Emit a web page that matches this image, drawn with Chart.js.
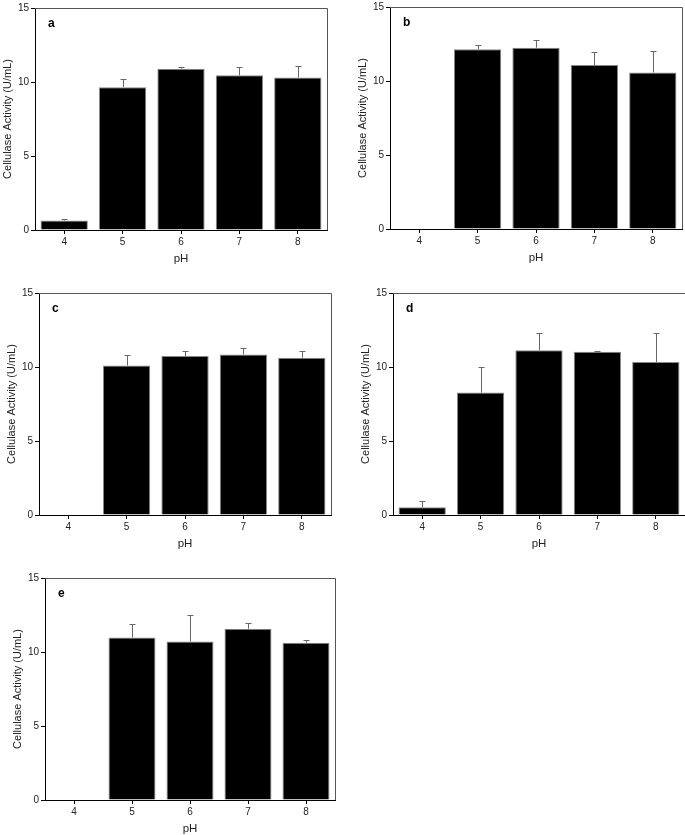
<!DOCTYPE html>
<html>
<head>
<meta charset="utf-8">
<script src="https://cdn.jsdelivr.net/npm/chart.js@4.4.1/dist/chart.umd.min.js"></script>
<style>
  html, body { margin: 0; padding: 0; background: #fff; overflow: hidden; }
  body { width: 685px; height: 835px; position: relative; }
  canvas { position: absolute; }
</style>
</head>
<body>
<canvas id="chart-a"></canvas>
<canvas id="chart-b"></canvas>
<canvas id="chart-c"></canvas>
<canvas id="chart-d"></canvas>
<canvas id="chart-e"></canvas>
<script>
// data
const phLabels = ["4", "5", "6", "7", "8"];
const yTicks = [0, 5, 10, 15];

const meanA = [0.65, 9.65, 10.9, 10.45, 10.3];
const errA = [0.1, 0.55, 0.12, 0.55, 0.8];
const meanB = [0, 12.15, 12.25, 11.08, 10.58];
const errB = [0, 0.27, 0.5, 0.85, 1.46];
const meanC = [0, 10.1, 10.74, 10.85, 10.63];
const errC = [0, 0.72, 0.31, 0.43, 0.47];
const meanD = [0.52, 8.27, 11.14, 11.03, 10.34];
const errD = [0.44, 1.75, 1.15, 0.07, 1.95];
const meanE = [0, 10.98, 10.71, 11.57, 10.62];
const errE = [0, 0.9, 1.78, 0.4, 0.16];

const FONT = "'Liberation Sans', Arial, sans-serif";
const AXIS_W = 35, PAD_TOP = 7, PAD_RIGHT = 8, X_AXIS_H = 36, PLOT_H = 223;

// upper error whiskers + frame + panel letter
const extrasPlugin = {
  id: "extras",
  afterDatasetsDraw(chart) {
    const ctx = chart.ctx;
    const area = chart.chartArea;
    const y = chart.scales.y;
    const meta = chart.getDatasetMeta(0);
    const errs = chart.options.plugins.extras.err;
    ctx.save();
    ctx.strokeStyle = "#666";
    ctx.lineWidth = 1;
    meta.data.forEach((bar, i) => {
      if (!errs[i]) return;
      const v = chart.data.datasets[0].data[i];
      const x = Math.round(bar.x) + 0.5;
      const yTop = Math.round(y.getPixelForValue(v + errs[i])) + 0.5;
      const yBase = y.getPixelForValue(v);
      ctx.beginPath();
      ctx.moveTo(x, yBase);
      ctx.lineTo(x, yTop);
      ctx.moveTo(x - 3, yTop);
      ctx.lineTo(x + 3, yTop);
      ctx.stroke();
    });
    // top and right frame
    ctx.strokeStyle = "#555";
    ctx.beginPath();
    ctx.moveTo(area.left, Math.round(area.top) + 0.5);
    ctx.lineTo(Math.round(area.right) + 0.5, Math.round(area.top) + 0.5);
    ctx.lineTo(Math.round(area.right) + 0.5, area.bottom);
    ctx.stroke();
    // panel letter
    ctx.fillStyle = "#000";
    ctx.font = "bold 12px " + FONT;
    ctx.textBaseline = "middle";
    ctx.fillText(chart.options.plugins.extras.letter, area.left + 13, area.top + 16);
    ctx.restore();
  },
};

function makePanel(id, letter, means, errs, plotLeft, plotTop, plotW) {
  const canvas = document.getElementById(id);
  canvas.width = AXIS_W + plotW + PAD_RIGHT;
  canvas.height = PAD_TOP + PLOT_H + X_AXIS_H;
  canvas.style.left = plotLeft - AXIS_W + "px";
  canvas.style.top = plotTop - PAD_TOP + "px";

  new Chart(canvas, {
    type: "bar",
    data: {
      labels: phLabels,
      datasets: [
        {
          data: means,
          backgroundColor: "#000",
          borderColor: "#888",
          borderWidth: 1,
          categoryPercentage: 1,
          barPercentage: 0.81,
        },
      ],
    },
    options: {
      responsive: false,
      animation: false,
      events: [],
      layout: { padding: { top: PAD_TOP, right: PAD_RIGHT, left: 0, bottom: 0 } },
      plugins: {
        legend: { display: false },
        tooltip: { enabled: false },
        extras: { letter: letter, err: errs },
      },
      scales: {
        x: {
          grid: { display: true, offset: false, drawOnChartArea: false, tickLength: 4, color: "#000" },
          border: { display: true, color: "#000", width: 1 },
          ticks: { color: "#222", font: { family: FONT, size: 10 }, padding: 2 },
          title: {
            display: true,
            text: "pH",
            color: "#222",
            font: { family: FONT, size: 11.5 },
            padding: { top: 0, bottom: 0 },
          },
          afterFit(scale) {
            scale.height = X_AXIS_H;
          },
        },
        y: {
          min: 0,
          max: 15,
          afterBuildTicks(scale) {
            scale.ticks = yTicks.map((v) => ({ value: v }));
          },
          grid: { display: true, drawOnChartArea: false, tickLength: 4, color: "#000" },
          border: { display: true, color: "#000", width: 1 },
          ticks: { color: "#222", font: { family: FONT, size: 10 }, padding: 2 },
          title: {
            display: true,
            text: "Cellulase Activity (U/mL)",
            color: "#222",
            font: { family: FONT, size: 11 },
            padding: { top: 1, bottom: 0 },
          },
          afterFit(scale) {
            scale.width = AXIS_W;
          },
        },
      },
    },
    plugins: [extrasPlugin],
  });
}

makePanel("chart-a", "a", meanA, errA, 35, 7, 292);
makePanel("chart-b", "b", meanB, errB, 390, 6, 292);
makePanel("chart-c", "c", meanC, errC, 39, 292, 292);
makePanel("chart-d", "d", meanD, errD, 393, 292, 292);
makePanel("chart-e", "e", meanE, errE, 45, 577, 290);
</script>
</body>
</html>
